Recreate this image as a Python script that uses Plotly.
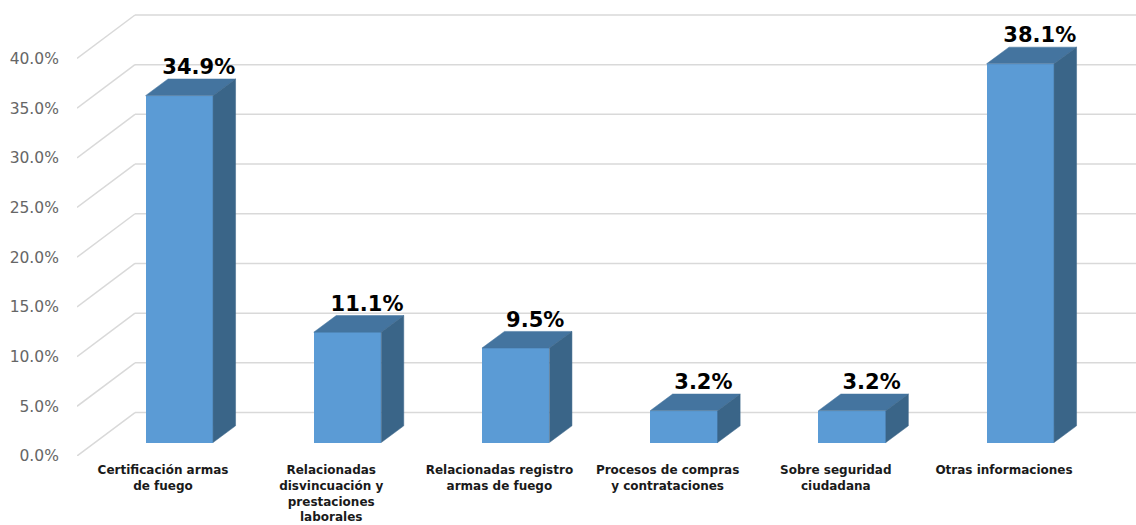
import plotly.graph_objects as go

categories = [
    "Certificación armas<br>de fuego",
    "Relacionadas<br>disvincuación y<br>prestaciones<br>laborales",
    "Relacionadas registro<br>armas de fuego",
    "Procesos de compras<br>y contrataciones",
    "Sobre seguridad<br>ciudadana",
    "Otras informaciones",
]
values = [34.9, 11.1, 9.5, 3.2, 3.2, 38.1]
labels = ["34.9%", "11.1%", "9.5%", "3.2%", "3.2%", "38.1%"]
axis_ticks = [0, 5, 10, 15, 20, 25, 30, 35, 40]

W, H = 1136, 525
LEFT, BOTTOM_PX = 77, 456.5
PX_X, PX_Y = 168.2, 9.95        # pixels per category / per percentage point
FIRST_TICK_PX = 163

def dx(px):
    return px / PX_X

def dy(px):
    return px / PX_Y

x_range = [dx(LEFT - FIRST_TICK_PX), dx(W - FIRST_TICK_PX)]
y_range = [0, dy(BOTTOM_PX)]

wall_dx, wall_dy = dx(58), dy(43.5)
bar_w = dx(67.5)
bar_x = dx(16.3)                # front-face centre, relative to the tick
bar_base = dy(13.5)             # front-face floor, relative to the axis floor
depth_x, depth_y = dx(22.5), dy(16.7)

FRONT, TOP, SIDE, GRID = "#5B9BD5", "#44749F", "#3A6588", "#D9D9D9"

fig = go.Figure()

# Walls: each gridline runs up the side wall, then across the back wall
for t in axis_ticks:
    fig.add_shape(type="line", layer="below", xref="x", yref="y",
                  x0=x_range[0], y0=t, x1=x_range[0] + wall_dx, y1=t + wall_dy,
                  line=dict(color=GRID, width=1.5))
    fig.add_shape(type="line", layer="below", xref="x", yref="y",
                  x0=x_range[0] + wall_dx, y0=t + wall_dy, x1=x_range[1], y1=t + wall_dy,
                  line=dict(color=GRID, width=1.5))

# Front faces
fig.add_trace(go.Bar(
    x=[i + bar_x for i in range(len(values))],
    y=values,
    base=[bar_base] * len(values),
    width=bar_w,
    marker=dict(color=FRONT, line=dict(width=0)),
    customdata=labels,
    hovertemplate="%{customdata}<extra></extra>",
    showlegend=False,
))

# Top and side faces
for i, v in enumerate(values):
    l = i + bar_x - bar_w / 2
    r = i + bar_x + bar_w / 2
    b = bar_base
    t = bar_base + v
    fig.add_trace(go.Scatter(
        x=[l, r, r + depth_x, l + depth_x, l],
        y=[t, t, t + depth_y, t + depth_y, t],
        mode="lines", fill="toself", fillcolor=TOP,
        line=dict(color=TOP, width=0.5), hoverinfo="skip", showlegend=False,
    ))
    fig.add_trace(go.Scatter(
        x=[r, r + depth_x, r + depth_x, r, r],
        y=[b, b + depth_y, t + depth_y, t, b],
        mode="lines", fill="toself", fillcolor=SIDE,
        line=dict(color=SIDE, width=0.5), hoverinfo="skip", showlegend=False,
    ))

# Data labels
fig.add_trace(go.Scatter(
    x=[i + bar_x + dx(19.5) for i in range(len(values))],
    y=[bar_base + v + depth_y + dy(10) for v in values],
    mode="text", text=labels, textposition="middle center",
    textfont=dict(family="DejaVu Sans", size=21, color="#000000", weight="bold"),
    hoverinfo="skip", showlegend=False,
))

fig.update_layout(
    width=W, height=H, autosize=False,
    margin=dict(l=LEFT, r=0, t=0, b=H - BOTTOM_PX),
    paper_bgcolor="white", plot_bgcolor="white",
    bargap=0,
    xaxis=dict(
        range=x_range, tickmode="array",
        tickvals=list(range(len(categories))), ticktext=categories,
        tickangle=0, showgrid=False, zeroline=False, showline=False,
        ticks="outside", ticklen=3, tickcolor="rgba(0,0,0,0)", automargin=False,
        tickfont=dict(family="DejaVu Sans", size=12, color="#1A1A1A", weight="bold"),
    ),
    yaxis=dict(
        range=y_range, tickmode="array", tickvals=axis_ticks,
        ticktext=[f"{t:.1f}%" for t in axis_ticks],
        showgrid=False, zeroline=False, showline=False,
        ticks="outside", ticklen=14, tickcolor="rgba(0,0,0,0)", automargin=False,
        tickfont=dict(family="DejaVu Sans", size=15.5, color="#666666"),
    ),
)

fig.write_html("out.html", config=dict(displayModeBar=False),
               post_script="document.body.style.margin='0';")
